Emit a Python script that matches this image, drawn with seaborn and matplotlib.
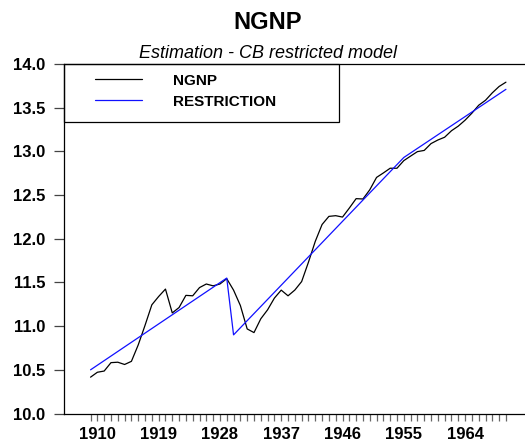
import numpy as np
import pandas as pd
import matplotlib
matplotlib.use("Agg")
import matplotlib.pyplot as plt
import seaborn as sns
from matplotlib.patches import Rectangle

sns.set_theme(style="ticks")
plt.rcParams['font.family'] = ['Liberation Sans', 'DejaVu Sans']
plt.rcParams['text.color'] = 'black'

# log nominal GNP, 1909-1970
years = list(range(1909, 1971))
ngnp = [10.416, 10.472, 10.486, 10.582, 10.587, 10.561, 10.597, 10.785, 11.009, 11.244,
        11.339, 11.424, 11.151, 11.213, 11.352, 11.347, 11.441, 11.482, 11.461, 11.482,
        11.543, 11.412, 11.236, 10.968, 10.926, 11.084, 11.187, 11.321, 11.412, 11.347,
        11.413, 11.510, 11.732, 11.970, 12.163, 12.256, 12.264, 12.248, 12.351, 12.459,
        12.455, 12.560, 12.702, 12.753, 12.807, 12.807, 12.894, 12.946, 12.997, 13.011,
        13.089, 13.130, 13.162, 13.236, 13.289, 13.357, 13.437, 13.528, 13.585, 13.670,
        13.743, 13.792]

# restricted trend (break points)
restr_years = [1909, 1929, 1930, 1955, 1970]
restr_values = [10.50, 11.55, 10.90, 12.93, 13.71]

tick_years = [1910, 1919, 1928, 1937, 1946, 1955, 1964]
y_ticks = [10.0, 10.5, 11.0, 11.5, 12.0, 12.5, 13.0, 13.5, 14.0]

df = pd.DataFrame({'year': years, 'NGNP': ngnp})
df_r = pd.DataFrame({'year': restr_years, 'RESTRICTION': restr_values})

fig = plt.figure(figsize=(5.25, 4.46), dpi=100)
ax = fig.add_axes([64 / 525, 1 - 413.5 / 446, 1 - 64 / 525, (413.5 - 64) / 446])

sns.lineplot(data=df, x='year', y='NGNP', color='black', lw=0.9, ax=ax, label='NGNP')
sns.lineplot(data=df_r, x='year', y='RESTRICTION', color='#1010ff', lw=0.9, ax=ax,
             label='RESTRICTION')

ax.set_xlim(1905.1, 1972.8)
ax.set_ylim(10.0, 14.0)
ax.set_xlabel('')
ax.set_ylabel('')

ax.set_yticks(y_ticks)
ax.set_yticklabels([f'{v:.1f}' for v in y_ticks], fontweight='bold', fontsize=12)
ax.set_xticks(tick_years)
ax.set_xticklabels([str(y) for y in tick_years], fontweight='bold', fontsize=12)
ax.set_xticks(years, minor=True)

ax.tick_params(axis='y', direction='out', length=7.5, width=0.9, color='#444444',
               pad=6, labelcolor='black')
ax.tick_params(axis='x', which='both', direction='out', length=5, width=0.9,
               color='#666666', pad=5, labelcolor='black')

for side in ['left', 'top', 'bottom']:
    ax.spines[side].set_color('black')
    ax.spines[side].set_linewidth(0.9)
ax.spines['right'].set_visible(False)

# legend box
ax.add_patch(Rectangle((0, 1 - 58 / 349.5), 275 / 461, 58 / 349.5, transform=ax.transAxes,
                       fill=False, edgecolor='black', lw=0.9, zorder=5, clip_on=False))
leg = ax.legend(loc='upper left', bbox_to_anchor=(31 / 461, 0.972), frameon=False,
                borderpad=0, borderaxespad=0, handlelength=3.1, handletextpad=2.0,
                labelspacing=0.45, prop={'weight': 'bold', 'size': 11})
for t in leg.get_texts():
    t.set_color('black')

fig.text(268 / 525, 1 - 29.3 / 446, 'NGNP', ha='center', va='baseline',
         fontsize=17, fontweight='bold', color='black')
fig.text(268 / 525, 1 - 58.3 / 446, 'Estimation - CB restricted model', ha='center',
         va='baseline', fontsize=13, fontstyle='italic', color='black')

fig.savefig('out.png', dpi=100)
